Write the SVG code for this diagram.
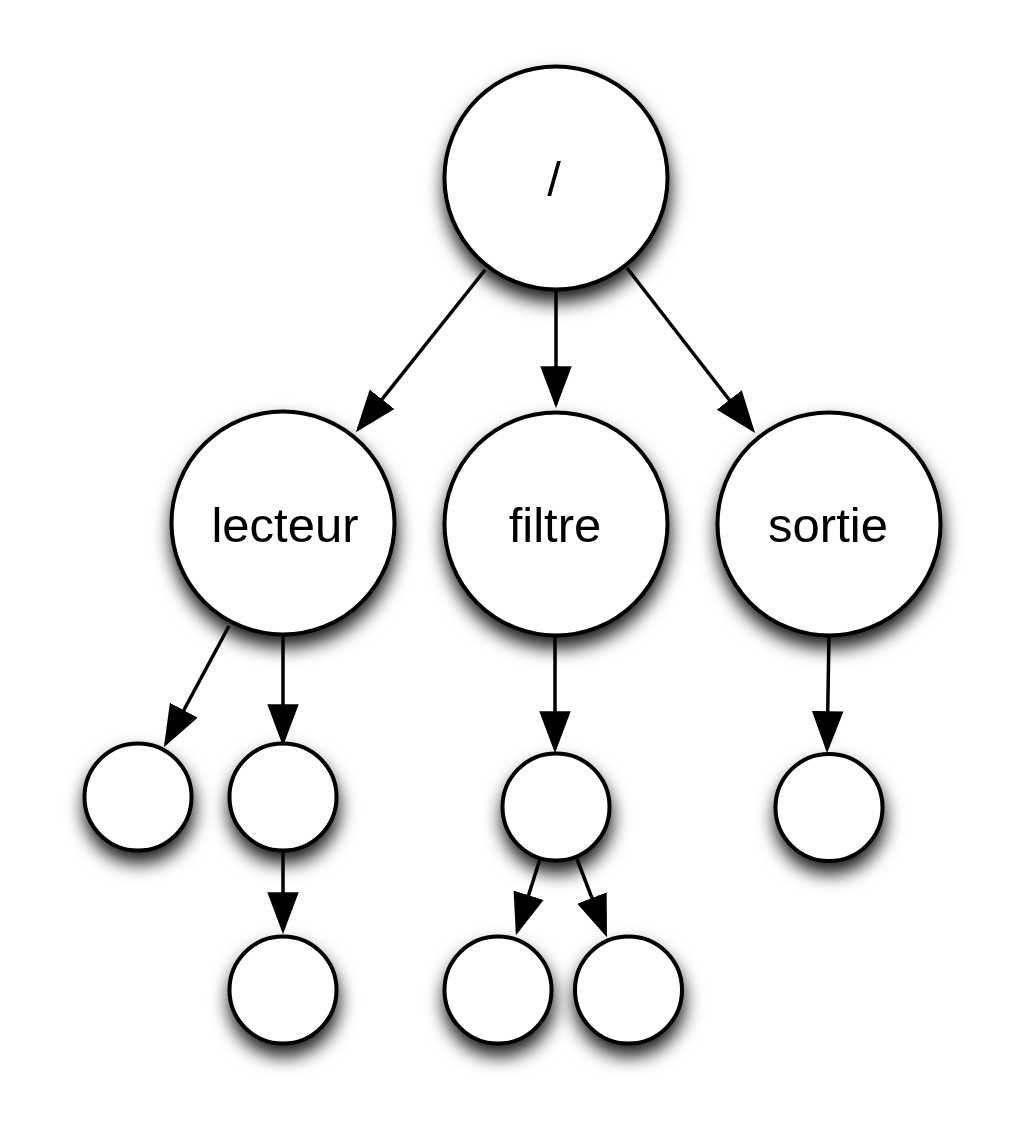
<svg xmlns="http://www.w3.org/2000/svg" width="1025" height="1141" viewBox="0 0 1025 1141">
  <style>
    .node circle { fill: #ffffff; stroke: #000000; stroke-width: 4; filter: url(#shadow); }
    .label { font-family: "Liberation Sans", Arial, Helvetica, sans-serif; font-size: 49px; fill: #000000; text-anchor: middle; }
    .edge { stroke: #000000; stroke-width: 3.5; fill: none; marker-end: url(#arrow); }
  </style>
  <defs>
    <filter id="shadow" x="-50%" y="-50%" width="200%" height="210%">
      <feDropShadow dx="1" dy="11" stdDeviation="9" flood-color="#000000" flood-opacity="0.9"/>
    </filter>
    <marker id="arrow" markerUnits="userSpaceOnUse" markerWidth="42" markerHeight="32" viewBox="0 0 40 30" refX="36" refY="15" orient="auto">
      <path d="M0,0 L40,15 L0,30 Z" fill="#000000"/>
    </marker>
  </defs>
  <rect width="1025" height="1141" fill="#ffffff"/>

  <g id="connectors">
    <line class="edge" x1="485" y1="270" x2="358.5" y2="428.9"/>
    <line class="edge" x1="556" y1="289" x2="556" y2="404"/>
    <line class="edge" x1="627" y1="268" x2="752.5" y2="429.8"/>
    <line class="edge" x1="229" y1="626" x2="165.9" y2="743.5"/>
    <line class="edge" x1="283" y1="634" x2="283" y2="742"/>
    <line class="edge" x1="283" y1="849" x2="283" y2="930"/>
    <line class="edge" x1="555" y1="635" x2="555" y2="749"/>
    <line class="edge" x1="829" y1="635" x2="827.1" y2="749"/>
    <line class="edge" x1="540" y1="859" x2="517.2" y2="931.2"/>
    <line class="edge" x1="577" y1="859" x2="605.5" y2="933.3"/>
  </g>

  <g id="node-root" class="node">
    <circle cx="556" cy="178" r="111.5"/>
    <text class="label" x="554" y="196">/</text>
  </g>
  <g id="node-lecteur" class="node">
    <circle cx="283" cy="523" r="111.5"/>
    <text class="label" x="285" y="542">lecteur</text>
  </g>
  <g id="node-filtre" class="node">
    <circle cx="556" cy="524" r="111.5"/>
    <text class="label" x="555" y="542">filtre</text>
  </g>
  <g id="node-sortie" class="node">
    <circle cx="829" cy="524" r="111.5"/>
    <text class="label" x="828" y="542">sortie</text>
  </g>
  <g id="node-lecteur-a" class="node">
    <circle cx="138" cy="797" r="53.5"/>
  </g>
  <g id="node-lecteur-b" class="node">
    <circle cx="283" cy="797" r="53.5"/>
  </g>
  <g id="node-lecteur-b-child" class="node">
    <circle cx="283" cy="990" r="53.5"/>
  </g>
  <g id="node-filtre-a" class="node">
    <circle cx="556" cy="807" r="53.5"/>
  </g>
  <g id="node-filtre-a-left" class="node">
    <circle cx="498" cy="990" r="53.5"/>
  </g>
  <g id="node-filtre-a-right" class="node">
    <circle cx="628.5" cy="990" r="53.5"/>
  </g>
  <g id="node-sortie-a" class="node">
    <circle cx="829" cy="807.5" r="53.5"/>
  </g>
</svg>
